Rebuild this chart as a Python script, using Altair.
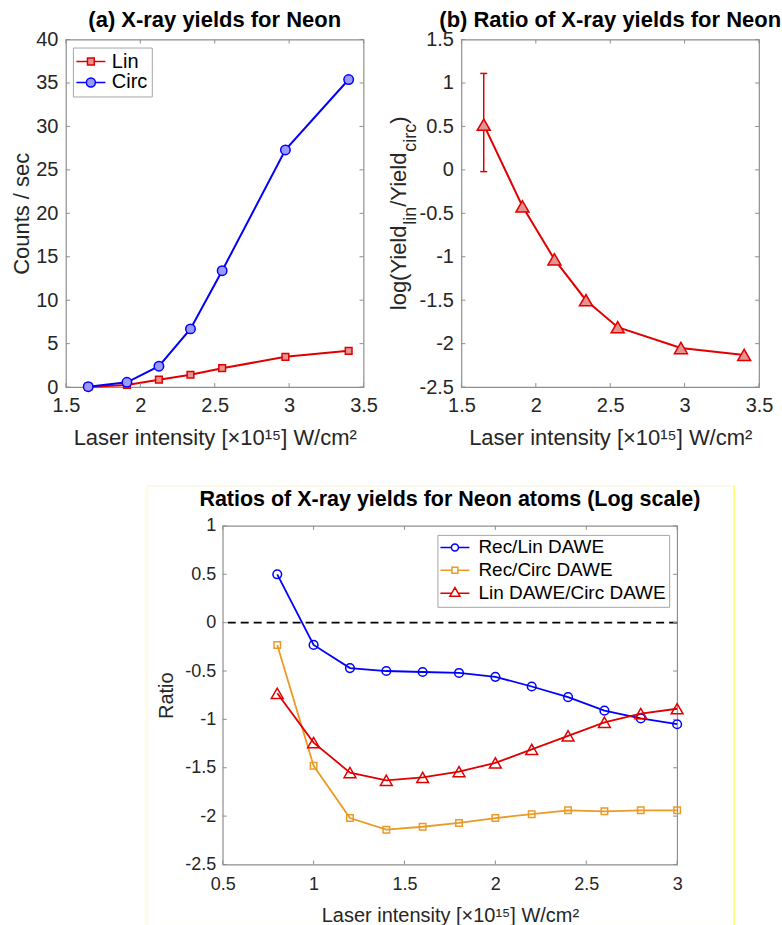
import altair as alt
import pandas as pd

# ---------------- data ----------------
intensity_ab = [1.65, 1.91, 2.125, 2.337, 2.55, 2.975, 3.40]
lin_counts = [0.02, 0.25, 0.85, 1.42, 2.18, 3.48, 4.18]
circ_counts = [0.05, 0.55, 2.40, 6.70, 13.40, 27.30, 35.40]

log_ratio = [0.52, -0.42, -1.03, -1.50, -1.81, -2.05, -2.13]
err_intensity = [1.65]
err_low = [-0.02]
err_high = [1.11]

intensity_c = [0.8, 1.0, 1.2, 1.4, 1.6, 1.8, 2.0, 2.2, 2.4, 2.6, 2.8, 3.0]
rec_lin = [0.50, -0.23, -0.47, -0.50, -0.51, -0.52, -0.56, -0.66, -0.77, -0.91, -0.99, -1.05]
rec_circ = [-0.23, -1.48, -2.02, -2.14, -2.11, -2.07, -2.02, -1.98, -1.94, -1.95, -1.94, -1.94]
lin_circ = [-0.73, -1.24, -1.55, -1.63, -1.60, -1.54, -1.45, -1.31, -1.17, -1.03, -0.94, -0.89]

x_ticks_ab = [1.5, 2, 2.5, 3, 3.5]
y_ticks_a = [0, 5, 10, 15, 20, 25, 30, 35, 40]
y_ticks_b = [-2.5, -2, -1.5, -1, -0.5, 0, 0.5, 1, 1.5]
x_ticks_c = [0.5, 1, 1.5, 2, 2.5, 3]
y_ticks_c = [-2.5, -2, -1.5, -1, -0.5, 0, 0.5, 1]

series_a = ["Lin", "Circ"]
series_c = ["Rec/Lin DAWE", "Rec/Circ DAWE", "Lin DAWE/Circ DAWE"]
reference_level = [0]

x_title = "Laser intensity [×10¹⁵] W/cm²"

# ---------------- styles ----------------
FONT = "Liberation Sans"
BOX = "#8f8f8f"
LABEL = "#262626"
RED = "#e00000"
RED_FILL = "#e59393"
BLUE = "#0000ff"
BLUE_FILL = "#9a9aff"
ORANGE = "#ec9a26"

WA, HA = 298, 348
WC, HC = 455, 339

SQ_LEG = "M-2.9,0H-0.68M0.68,0H2.9M-0.68,-0.68H0.68V0.68H-0.68Z"
CI_LEG = "M-2.9,0H-0.9M0.9,0H2.9M-0.9,0A0.9,0.9,0,1,1,0.9,0A0.9,0.9,0,1,1,-0.9,0Z"
CI_LEG_C = "M-2.9,0H-0.7M0.7,0H2.9M-0.7,0A0.7,0.7,0,1,1,0.7,0A0.7,0.7,0,1,1,-0.7,0Z"
SQ_LEG_C = "M-2.9,0H-0.6M0.6,0H2.9M-0.6,-0.6H0.6V0.6H-0.6Z"
TR_LEG_C = "M-2.9,0H-0.67M0.67,0H2.9M0,-1.155L-1,0.577L1,0.577Z"


def axis_x(values, fs, tfs, label_pad, title_y, title=x_title):
    return alt.Axis(values=values, title=title, labelExpr="toString(datum.value)",
                    labelFont=FONT, labelFontSize=fs, labelColor=LABEL,
                    labelBaseline="alphabetic", labelPadding=label_pad,
                    labelFlush=False, labelOverlap=False, domain=False,
                    ticks=False, tickSize=0, grid=False,
                    titleFont=FONT, titleFontSize=tfs, titleFontWeight="normal",
                    titleColor=LABEL, titleBaseline="alphabetic", titleY=title_y)


def axis_y(values, fs, tfs, label_pad, title_x, height, title):
    kw = dict(values=values, labelExpr="toString(datum.value)",
              labelFont=FONT, labelFontSize=fs, labelColor=LABEL,
              labelBaseline="middle", labelAlign="right", labelPadding=label_pad,
              labelFlush=False, labelOverlap=False, domain=False,
              ticks=False, tickSize=0, grid=False)
    if title is None:
        return alt.Axis(title=None, **kw)
    return alt.Axis(title=title, titleFont=FONT, titleFontSize=tfs,
                    titleFontWeight="normal", titleColor=LABEL, titleAngle=270,
                    titleBaseline="alphabetic", titleAlign="center",
                    titleX=title_x, titleY=height / 2, **kw)


def box_ticks(xvals, yvals, xs, ys, ax, ay, w, h, L=4):
    tx = pd.DataFrame({"tx": xvals})
    ty = pd.DataFrame({"ty": yvals})
    st = dict(color=BOX, strokeWidth=1)
    X = alt.X("tx:Q", scale=xs, axis=ax)
    Y = alt.Y("ty:Q", scale=ys, axis=ay)
    return [
        alt.Chart(tx).mark_rule(**st).encode(x=X, y=alt.value(h), y2=alt.value(h - L)),
        alt.Chart(tx).mark_rule(**st).encode(x=X, y=alt.value(0), y2=alt.value(L)),
        alt.Chart(ty).mark_rule(**st).encode(y=Y, x=alt.value(0), x2=alt.value(L)),
        alt.Chart(ty).mark_rule(**st).encode(y=Y, x=alt.value(w), x2=alt.value(w - L)),
    ]


def title(text, fs, offset):
    return alt.TitleParams(text, font=FONT, fontSize=fs, fontWeight="bold", color="black",
                           anchor="middle", baseline="alphabetic", offset=offset, frame="group")


# ---------------- panel (a) ----------------
df_a = pd.DataFrame({"I": intensity_ab, "Lin": lin_counts, "Circ": circ_counts})
xs_a = alt.Scale(domain=[1.5, 3.5], nice=False, zero=False)
ys_a = alt.Scale(domain=[0, 40], nice=False, zero=False)
AXa = axis_x(x_ticks_ab, 20, 22, 24, 57)
AYa = axis_y(y_ticks_a, 20, 22, 8, -37, HA, "Counts / sec")
Xa = alt.X("I:Q", scale=xs_a, axis=AXa)

lin_line = alt.Chart(df_a).mark_line(color=RED, strokeWidth=2).encode(
    x=Xa, y=alt.Y("Lin:Q", scale=ys_a, axis=AYa))
lin_pts = alt.Chart(df_a).mark_point(shape="square", size=45, filled=True, fill=RED_FILL,
                                     stroke=RED, strokeWidth=1.5, opacity=1).encode(
    x=Xa, y=alt.Y("Lin:Q", scale=ys_a, axis=AYa))
circ_line = alt.Chart(df_a).mark_line(color=BLUE, strokeWidth=2).encode(
    x=Xa, y=alt.Y("Circ:Q", scale=ys_a, axis=AYa))
circ_pts = alt.Chart(df_a).mark_point(shape="circle", size=90, filled=True, fill=BLUE_FILL,
                                      stroke=BLUE, strokeWidth=1.5, opacity=1).encode(
    x=Xa, y=alt.Y("Circ:Q", scale=ys_a, axis=AYa))

LEG_A = alt.Legend(title=None, orient="none", legendX=7, legendY=8, fillColor="white",
                   strokeColor="#a6a6a6", padding=4, cornerRadius=0, labelFont=FONT,
                   labelFontSize=20, labelColor="black", rowPadding=1, symbolSize=100,
                   symbolStrokeWidth=1.5, symbolOffset=4, labelOffset=11, labelLimit=400,
                   symbolFillColor="white", symbolStrokeColor="black")
leg_a = alt.Chart(pd.DataFrame({"s": series_a})).transform_filter("false").mark_point(
    filled=True, opacity=1, strokeWidth=1.5).encode(
    shape=alt.Shape("s:N", scale=alt.Scale(domain=series_a, range=[SQ_LEG, CI_LEG]), legend=LEG_A),
    fill=alt.Fill("s:N", scale=alt.Scale(domain=series_a, range=[RED_FILL, BLUE_FILL]), legend=LEG_A),
    stroke=alt.Stroke("s:N", scale=alt.Scale(domain=series_a, range=[RED, BLUE]), legend=LEG_A))

chart_a = alt.layer(lin_line, lin_pts, circ_line, circ_pts, leg_a,
                    *box_ticks(x_ticks_ab, y_ticks_a, xs_a, ys_a, AXa, AYa, WA, HA)).properties(
    width=WA, height=HA, title=title("(a) X-ray yields for Neon", 22, -19))

# ---------------- panel (b) ----------------
df_b = pd.DataFrame({"I": intensity_ab, "R": log_ratio})
df_err = pd.DataFrame({"I": err_intensity, "lo": err_low, "hi": err_high})
xs_b = alt.Scale(domain=[1.5, 3.5], nice=False, zero=False)
ys_b = alt.Scale(domain=[-2.5, 1.5], nice=False, zero=False)
AXb = axis_x(x_ticks_ab, 20, 22, 24, 57)
AYb = axis_y(y_ticks_b, 20, 22, 8, 0, HA, None)
Xb = alt.X("I:Q", scale=xs_b, axis=AXb)

err_rule = alt.Chart(df_err).mark_rule(color=RED, strokeWidth=1.5).encode(
    x=Xb, y=alt.Y("lo:Q", scale=ys_b, axis=AYb), y2="hi:Q")
cap_lo = alt.Chart(df_err).mark_tick(orient="horizontal", size=7, thickness=1.5, color=RED,
                                     opacity=1).encode(x=Xb, y=alt.Y("lo:Q", scale=ys_b, axis=AYb))
cap_hi = alt.Chart(df_err).mark_tick(orient="horizontal", size=7, thickness=1.5, color=RED,
                                     opacity=1).encode(x=Xb, y=alt.Y("hi:Q", scale=ys_b, axis=AYb))
ratio_line = alt.Chart(df_b).mark_line(color=RED, strokeWidth=2).encode(
    x=Xb, y=alt.Y("R:Q", scale=ys_b, axis=AYb))
ratio_pts = alt.Chart(df_b).mark_point(shape="triangle-up", size=170, filled=True, fill=RED_FILL,
                                       stroke=RED, strokeWidth=1.5, opacity=1).encode(
    x=Xb, y=alt.Y("R:Q", scale=ys_b, axis=AYb))

one = pd.DataFrame({"k": [0]})
ylab_b = [("log(Yield", 22, -55, 271), ("lin", 18, -45, 185.4), ("/Yield", 22, -55, 167.4),
          ("circ", 18, -45, 112.4), (")", 22, -55, 84.4)]
ylab_layers = [
    alt.Chart(one).mark_text(text=t, angle=270, align="left", baseline="alphabetic", font=FONT,
                             fontSize=fs, color=LABEL).encode(x=alt.value(xx), y=alt.value(yy))
    for t, fs, xx, yy in ylab_b
]

chart_b = alt.layer(err_rule, cap_lo, cap_hi, ratio_line, ratio_pts, *ylab_layers,
                    *box_ticks(x_ticks_ab, y_ticks_b, xs_b, ys_b, AXb, AYb, WA, HA)).properties(
    width=WA, height=HA, title=title("(b) Ratio of X-ray yields for Neon", 22, -19))

# ---------------- panel (c) ----------------
df_c = pd.DataFrame({"I": intensity_c, "RL": rec_lin, "RC": rec_circ, "LC": lin_circ})
xs_c = alt.Scale(domain=[0.5, 3.0], nice=False, zero=False)
ys_c = alt.Scale(domain=[-2.5, 1.0], nice=False, zero=False)
AXc = axis_x(x_ticks_c, 18, 20, 25, 57)
AYc = axis_y(y_ticks_c, 18, 20, 7, -50, HC, "Ratio")
Xc = alt.X("I:Q", scale=xs_c, axis=AXc)

frame = alt.Chart(one).mark_rect(fill="transparent", stroke="#fbf7cf", strokeWidth=1).encode(
    x=alt.value(-76), x2=alt.value(512), y=alt.value(-40), y2=alt.value(400))
frame_r = alt.Chart(one).mark_rule(color="#ffff55", strokeWidth=1.3).encode(
    x=alt.value(512), y=alt.value(-40), y2=alt.value(400))

rl_line = alt.Chart(df_c).mark_line(color=BLUE, strokeWidth=1.8).encode(
    x=Xc, y=alt.Y("RL:Q", scale=ys_c, axis=AYc))
rl_pts = alt.Chart(df_c).mark_point(shape="circle", size=75, filled=False, stroke=BLUE,
                                    strokeWidth=1.5, opacity=1).encode(
    x=Xc, y=alt.Y("RL:Q", scale=ys_c, axis=AYc))
rc_line = alt.Chart(df_c).mark_line(color=ORANGE, strokeWidth=1.8).encode(
    x=Xc, y=alt.Y("RC:Q", scale=ys_c, axis=AYc))
rc_pts = alt.Chart(df_c).mark_point(shape="square", size=42, filled=False, stroke=ORANGE,
                                    strokeWidth=1.5, opacity=1).encode(
    x=Xc, y=alt.Y("RC:Q", scale=ys_c, axis=AYc))
lc_line = alt.Chart(df_c).mark_line(color=RED, strokeWidth=1.8).encode(
    x=Xc, y=alt.Y("LC:Q", scale=ys_c, axis=AYc))
lc_pts = alt.Chart(df_c).mark_point(shape="triangle-up", size=140, filled=False, stroke=RED,
                                    strokeWidth=1.5, opacity=1).encode(
    x=Xc, y=alt.Y("LC:Q", scale=ys_c, axis=AYc))
zero_line = alt.Chart(pd.DataFrame({"z": reference_level})).mark_rule(
    color="black", strokeWidth=1.8, strokeDash=[8, 5]).encode(
    y=alt.Y("z:Q", scale=ys_c, axis=AYc))

LEG_C = alt.Legend(title=None, orient="none", legendX=215, legendY=9, fillColor="white",
                   strokeColor="#a6a6a6", padding=3, cornerRadius=0, labelFont=FONT,
                   labelFontSize=19, labelColor="black", rowPadding=3, symbolSize=100,
                   symbolStrokeWidth=1.5, symbolOffset=5, labelOffset=14, labelLimit=400,
                   symbolFillColor="transparent", symbolStrokeColor="black")
leg_c = alt.Chart(pd.DataFrame({"s": series_c})).transform_filter("false").mark_point(
    filled=False, opacity=1, strokeWidth=1.5).encode(
    shape=alt.Shape("s:N", scale=alt.Scale(domain=series_c, range=[CI_LEG_C, SQ_LEG_C, TR_LEG_C]),
                    legend=LEG_C),
    stroke=alt.Stroke("s:N", scale=alt.Scale(domain=series_c, range=[BLUE, ORANGE, RED]),
                      legend=LEG_C))

chart_c = alt.layer(frame, frame_r, rl_line, rl_pts, rc_line, rc_pts, lc_line, lc_pts,
                    zero_line, leg_c,
                    *box_ticks(x_ticks_c, y_ticks_c, xs_c, ys_c, AXc, AYc, WC, HC)).properties(
    width=WC, height=HC,
    title=title("Ratios of X-ray yields for Neon atoms (Log scale)", 21.5, -42))

spacer = alt.Chart(one).mark_point(opacity=0).encode(
    x=alt.value(0), y=alt.value(0)).properties(width=79, height=10,
                                               view=alt.ViewBackground(stroke=None))

RES = dict(shape="independent", fill="independent", stroke="independent")
top = alt.hconcat(chart_a, chart_b, spacing=9).resolve_scale(**RES)
bottom = alt.hconcat(spacer, chart_c, spacing=0).resolve_scale(**RES)
chart = alt.vconcat(top, bottom, spacing=35).resolve_scale(**RES).properties(
    padding={"left": 10, "top": 7, "right": 0, "bottom": 0},
    background="white",
).configure_view(stroke=BOX, strokeWidth=1.2)

chart.save("out.html", embed_options={"renderer": "svg", "actions": False})
